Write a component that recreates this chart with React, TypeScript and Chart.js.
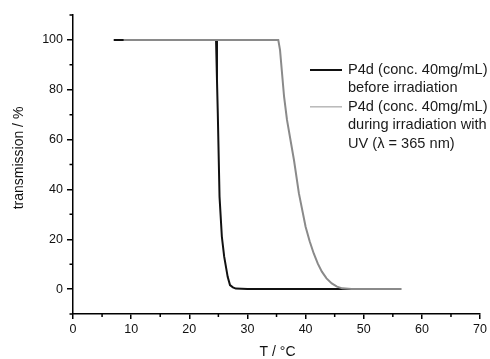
import React, { useEffect, useRef } from "react";
import { Chart, registerables } from "chart.js";

Chart.register(...registerables);

// Transmission vs temperature for P4d (40 mg/mL)
const beforeT = [7.0, 24.6, 24.76, 24.9, 25.2, 25.6, 26.0, 26.6, 27.0, 27.5, 28.0, 30.0, 48.0];
const beforeV = [100, 100, 83.9, 70.6, 37, 21, 13, 4.9, 1.6, 0.7, 0.2, 0, 0];

const duringT = [8.7, 35.3, 35.6, 36.3, 36.8, 38.0, 38.85, 40.0, 40.7, 41.4, 42.1, 42.8, 43.6, 44.5, 45.4, 46.3, 47.9, 56.5];
const duringV = [100, 100, 96, 77.2, 67.9, 51.8, 38.4, 25, 19.2, 14.3, 10.2, 7, 4.3, 2.3, 1.0, 0.3, 0, 0];

const xMajorTicks = [0, 10, 20, 30, 40, 50, 60, 70];
const xMinorTicks = [5, 15, 25, 35, 45, 55, 65];
const yMajorTicks = [0, 20, 40, 60, 80, 100];
const yMinorTicks = [-10, 10, 30, 50, 70, 90, 110];

const legendBefore = ["P4d (conc. 40mg/mL)", "before irradiation"];
const legendDuring = ["P4d (conc. 40mg/mL)", "during irradiation with", "UV (\u03bb = 365 nm)"];

const xTitle = "T / \u00b0C";
const yTitle = "transmission / %";

const FONT = "'Liberation Sans', Arial, Helvetica, sans-serif";
const BLACK = "#111111";
const GREY = "#8a8a8a";

const toPoints = (xs: number[], ys: number[]) => xs.map((x, i) => ({ x, y: ys[i] }));

// Minor tick marks, axis titles and the in-plot legend
const decorations = {
  id: "decorations",
  afterDraw(chart: any) {
    const { ctx, scales } = chart;
    const xs = scales.x;
    const ys = scales.y;
    ctx.save();
    ctx.strokeStyle = "#000";
    ctx.lineWidth = 1.5;
    ctx.beginPath();
    xMinorTicks.forEach((v) => {
      const px = xs.getPixelForValue(v);
      ctx.moveTo(px, xs.top);
      ctx.lineTo(px, xs.top + 3);
    });
    yMinorTicks.forEach((v) => {
      const py = ys.getPixelForValue(v);
      ctx.moveTo(ys.right, py);
      ctx.lineTo(ys.right - 3.5, py);
    });
    ctx.stroke();

    // axis titles
    ctx.fillStyle = "#111";
    ctx.font = `14px ${FONT}`;
    ctx.textAlign = "center";
    ctx.textBaseline = "middle";
    const area = chart.chartArea;
    ctx.fillText(xTitle, (area.left + area.right) / 2 + 1, 352);
    ctx.save();
    ctx.translate(19, 158);
    ctx.rotate(-Math.PI / 2);
    ctx.fillText(yTitle, 0, 0);
    ctx.restore();

    // legend
    const lx0 = 310;
    const lx1 = 342;
    const tx = 348;
    const lineH = 18.4;
    ctx.font = `14.6px ${FONT}`;
    ctx.textAlign = "left";
    ctx.fillStyle = "#1a1a1a";
    let y = 70;
    ctx.strokeStyle = BLACK;
    ctx.lineWidth = 2;
    ctx.beginPath();
    ctx.moveTo(lx0, y);
    ctx.lineTo(lx1, y);
    ctx.stroke();
    legendBefore.forEach((t) => {
      ctx.fillText(t, tx, y);
      y += lineH;
    });
    ctx.strokeStyle = "#b8b8b8";
    ctx.lineWidth = 1.5;
    ctx.beginPath();
    ctx.moveTo(lx0, y);
    ctx.lineTo(lx1, y);
    ctx.stroke();
    legendDuring.forEach((t) => {
      ctx.fillText(t, tx, y);
      y += lineH;
    });
    ctx.restore();
  },
};

export default function App() {
  const canvasRef = useRef<HTMLCanvasElement | null>(null);

  useEffect(() => {
    document.body.style.margin = "0";
    const canvas = canvasRef.current;
    if (!canvas) return;
    const chart = new Chart(canvas, {
      type: "line",
      data: {
        datasets: [
          {
            label: "before irradiation",
            data: toPoints(beforeT, beforeV),
            borderColor: BLACK,
            borderWidth: 2,
            pointRadius: 0,
            tension: 0,
            order: 1,
          },
          {
            label: "during irradiation",
            data: toPoints(duringT, duringV),
            borderColor: GREY,
            borderWidth: 2,
            pointRadius: 0,
            tension: 0,
            order: 0,
          },
        ],
      },
      options: {
        animation: false,
        responsive: false,
        devicePixelRatio: 1,
        parsing: false,
        layout: { padding: { left: 0, top: 15, right: 8, bottom: 0 } },
        plugins: {
          legend: { display: false },
          tooltip: { enabled: false },
        },
        scales: {
          x: {
            type: "linear",
            min: 0,
            max: 70,
            afterBuildTicks: (scale: any) => {
              scale.ticks = xMajorTicks.map((value) => ({ value }));
            },
            afterFit: (scale: any) => {
              scale.height = 45;
            },
            ticks: {
              color: "#111",
              font: { family: FONT, size: 12.5 },
              padding: 3,
              maxRotation: 0,
            },
            grid: {
              drawOnChartArea: false,
              drawTicks: true,
              tickLength: 5,
              tickColor: "#000",
              lineWidth: 1.5,
            },
            border: { display: true, color: "#000", width: 1.5 },
          },
          y: {
            type: "linear",
            min: -10,
            max: 110,
            afterBuildTicks: (scale: any) => {
              scale.ticks = yMajorTicks.map((value) => ({ value }));
            },
            afterFit: (scale: any) => {
              scale.width = 73;
            },
            ticks: {
              color: "#111",
              font: { family: FONT, size: 12.5 },
              padding: 4,
            },
            grid: {
              drawOnChartArea: false,
              drawTicks: true,
              tickLength: 6,
              tickColor: "#000",
              lineWidth: 1.5,
            },
            border: { display: true, color: "#000", width: 1.5 },
          },
        },
      } as any,
      plugins: [decorations],
    });
    return () => chart.destroy();
  }, []);

  return (
    <div style={{ position: "absolute", left: 0, top: 0, width: 490, height: 359, background: "#fff" }}>
      <canvas ref={canvasRef} width={490} height={359} />
    </div>
  );
}
